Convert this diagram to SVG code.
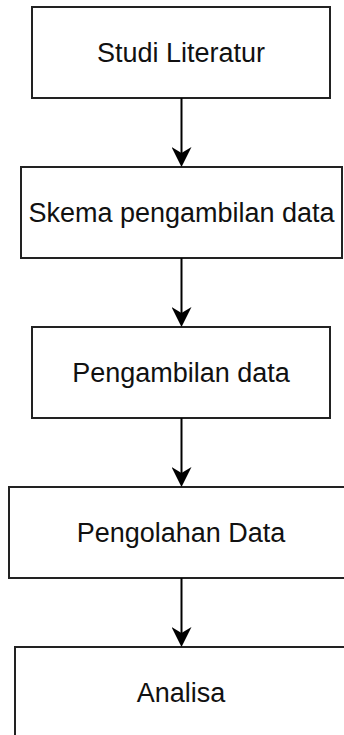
<svg xmlns="http://www.w3.org/2000/svg" width="344" height="735" viewBox="0 0 344 735">
  <style>
    .box { fill: #ffffff; stroke: #222222; stroke-width: 2; }
    .lbl { font-family: "Liberation Sans", Arial, sans-serif; font-size: 27px; fill: #111111; text-anchor: middle; }
    .edge { fill: none; stroke: #000000; stroke-width: 2; }
  </style>
  <defs>
    <marker id="arrow" viewBox="0 0 20 20" refX="10" refY="10" markerWidth="20" markerHeight="20" markerUnits="userSpaceOnUse" orient="auto">
      <path d="M0,0 L20,10 L0,20 L6,10 Z" fill="#000000"/>
    </marker>
  </defs>
  <rect width="344" height="735" fill="#ffffff"/>
  <g id="node-studi">
    <rect class="box" x="32" y="7" width="298" height="91"/>
    <text class="lbl" x="181" y="62">Studi Literatur</text>
  </g>
  <g id="node-skema">
    <rect class="box" x="21" y="167" width="321" height="91"/>
    <text class="lbl" x="181.5" y="222">Skema pengambilan data</text>
  </g>
  <g id="node-pengambilan">
    <rect class="box" x="32" y="327" width="298" height="91"/>
    <text class="lbl" x="181" y="382">Pengambilan data</text>
  </g>
  <g id="node-pengolahan">
    <rect class="box" x="9" y="487" width="345" height="91"/>
    <text class="lbl" x="181" y="542">Pengolahan Data</text>
  </g>
  <g id="node-analisa">
    <rect class="box" x="15" y="647" width="333" height="91"/>
    <text class="lbl" x="181" y="702">Analisa</text>
  </g>
  <g id="connectors">
    <path class="edge" d="M181.5,98 L181.5,157" marker-end="url(#arrow)"/>
    <path class="edge" d="M181.5,258 L181.5,317" marker-end="url(#arrow)"/>
    <path class="edge" d="M181.5,418 L181.5,477" marker-end="url(#arrow)"/>
    <path class="edge" d="M181.5,578 L181.5,637" marker-end="url(#arrow)"/>
  </g>
</svg>
